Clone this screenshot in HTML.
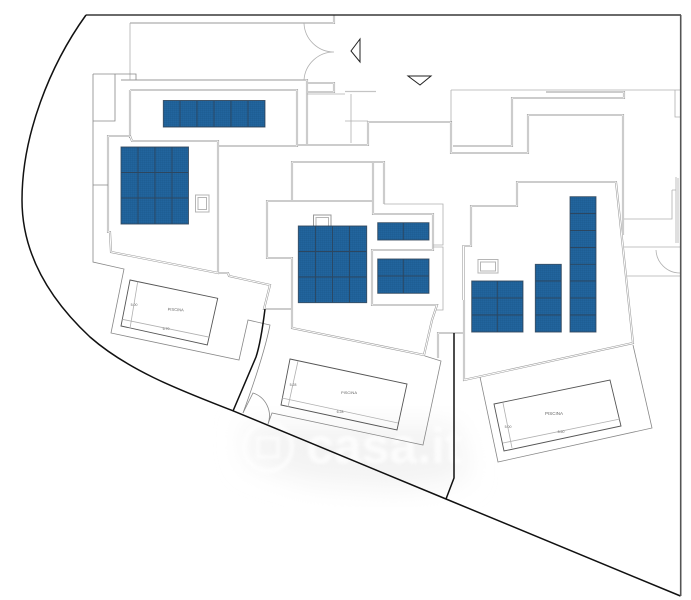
<!DOCTYPE html>
<html><head><meta charset="utf-8"><style>
html,body{margin:0;padding:0;background:#fff;width:691px;height:600px;overflow:hidden}
svg{display:block;filter:blur(.3px)}
.th{fill:none;stroke:#b0b0b0;stroke-width:.8}
.dk{fill:none;stroke:#666;stroke-width:.8}
.w{fill:none;stroke:#999;stroke-width:2.1;stroke-linejoin:miter}
.wi{fill:none;stroke:#fff;stroke-width:1}
.b{fill:none;stroke:#111;stroke-width:1.5}
.p{stroke:#2e4256;stroke-width:.9;fill:none;stroke-opacity:.85}
text{font-family:"Liberation Sans",sans-serif;fill:#666}
</style></head><body>
<svg width="691" height="600" viewBox="0 0 691 600" xmlns="http://www.w3.org/2000/svg">
<defs>
<pattern id="g" width="2" height="2" patternUnits="userSpaceOnUse"><rect width="2" height="2" fill="#22659e"/><path d="M0 0H2M0 0V2" stroke="#1a5488" stroke-width=".5"/></pattern>
<filter id="bl" x="-20%" y="-30%" width="140%" height="160%"><feGaussianBlur stdDeviation="14"/></filter>
<filter id="b2"><feGaussianBlur stdDeviation="1.6"/></filter>
</defs>

<!-- watermark -->
<path d="M245 425L455 425L468 478L400 488L310 482L248 462Z" fill="#f3f3f3" filter="url(#bl)"/>
<g filter="url(#b2)" opacity=".75">
<circle cx="268" cy="447" r="24" fill="none" stroke="#fff" stroke-width="4"/>
<rect x="258" y="438" width="20" height="19" fill="none" stroke="#fff" stroke-width="3"/>
<text x="306" y="463" font-size="50" font-weight="bold" style="fill:#fff">casa.it</text>
</g>

<!-- double walls -->
<path class="w" d="M121 80H307V145H298"/>
<path class="wi" d="M121 80H307V145H298"/>
<path class="w" d="M130 90H297V146H218M130 90V138"/>
<path class="wi" d="M130 90H297V146H218M130 90V138"/>
<path class="w" d="M108 136H130L132 141H218V273L111 252L110 232H108Z"/>
<path class="wi" d="M108 136H130L132 141H218V273L111 252L110 232H108Z"/>
<path class="w" d="M218 273H228L229 276L270 285L264 309H292"/>
<path class="wi" d="M218 273H228L229 276L270 285L264 309H292"/>
<path class="w" d="M307 92H334V83H307M298 145H368V122H451V153H528V115H623V235"/>
<path class="wi" d="M307 92H334V83H307M298 145H368V122H451V153H528V115H623V235"/>
<path class="w" d="M292 201V162H384V204"/>
<path class="wi" d="M292 201V162H384V204"/>
<path class="w" d="M373 162V214H433V250H372V305H437L432 320L424 355L292 328V258H267V201H372"/>
<path class="wi" d="M373 162V214H433V250H372V305H437L432 320L424 355L292 328V258H267V201H372"/>
<path class="w" d="M463.500 300V246H471V206H517V182H616L633 343L464 380V300"/>
<path class="wi" d="M463.500 300V246H471V206H517V182H616L633 343L464 380V300"/>
<path class="w" d="M464 333H438V358"/>
<path class="wi" d="M464 333H438V358"/>
<path class="w" d="M130 23H334V15"/>
<path class="wi" d="M130 23H334V15"/>
<path class="w" d="M546 92H624V98H512V146H453"/>
<path class="wi" d="M546 92H624V98H512V146H453"/>
<path d="M345 91.500H376" fill="none" stroke="#c4c4c4" stroke-width="1.300"/>

<!-- thin lines -->
<path class="th" d="M130 23V80M304 23A30 30 0 0 0 334 52A30 30 0 0 0 304 80M351 94V143M307 94H345M345 121H368"/>
<path class="dk" style="stroke:#888" d="M93 74H136V80M115 74V121H93M93 74V262L124 269L111 333L239 360L248 320L270 325C266 345 258 372 243 413M93 185H108"/>
<path class="th" d="M451 90H680M451 90V122M675 90V117H680M676 177V243M678 178V243M672 190H676M672 190V219H624M624 247H680M627 276H680M656 250A24 24 0 0 0 680 273"/>
<path class="th" d="M384 204H443V245H433M433 247H443V310H436"/>
<path class="dk" style="stroke:#888" d="M243 413L253 393A24 24 0 0 1 268 424L272 413L423 445L441 361L425 356"/>
<path class="dk" style="stroke:#888" d="M480 377L498 462L652 428L633 345"/>

<!-- small boxes -->
<rect x="195.500" y="195" width="13.500" height="17" fill="#fff" stroke="#b5b5b5"/>
<rect x="198" y="197.500" width="8.500" height="12" fill="#fff" stroke="#b5b5b5"/>
<rect x="313.500" y="215" width="17.500" height="12" fill="#fff" stroke="#999"/>
<rect x="316" y="217.500" width="12.500" height="9" fill="#fff" stroke="#b5b5b5"/>
<rect x="478" y="259.500" width="20" height="13.500" fill="#fff" stroke="#b5b5b5"/>
<rect x="480.500" y="262" width="15" height="9" fill="#fff" stroke="#b5b5b5"/>

<!-- triangles -->
<path d="M360 39L351 51L360 62Z" fill="#fff" stroke="#222" stroke-width="1"/>
<path d="M408 76H431L420 85Z" fill="#fff" stroke="#222" stroke-width="1"/>

<!-- pools -->
<path d="M130 280L217.700 298.300L207.300 345L121 326Z" fill="none" stroke="#555" stroke-width=".9"/>
<path class="th" d="M137.700 281.700L130 328.300M122.300 319.300L210 337.300"/>
<text x="175.700" y="311" font-size="4" text-anchor="middle" transform="rotate(3 175.700 310)">PISCINA</text>
<text x="134" y="306" font-size="3.500" text-anchor="middle">5.00</text>
<text x="166" y="330" font-size="3.500" text-anchor="middle">6.70</text>

<path d="M290 359L407 384L397 430L281 405Z" fill="none" stroke="#555" stroke-width=".9"/>
<path class="th" d="M298 361L288 407M282 398L398 423"/>
<text x="349" y="394" font-size="4" text-anchor="middle">PISCINA</text>
<text x="293" y="386" font-size="3.500" text-anchor="middle">5.28</text>
<text x="340" y="413" font-size="3.500" text-anchor="middle">6.28</text>

<path d="M494 404L610 380L621 426L504 451Z" fill="none" stroke="#555" stroke-width=".9"/>
<path class="th" d="M503 403L512 448M503 443L620 419"/>
<text x="554" y="415" font-size="4.500" text-anchor="middle">PISCINA</text>
<text x="508" y="428" font-size="3.500" text-anchor="middle">5.00</text>
<text x="561" y="433" font-size="3.500" text-anchor="middle">8.50</text>

<!-- solar panels -->
<rect x="163.300" y="100.500" width="101.700" height="26.500" fill="url(#g)"/>
<path class="p" d="M163.300 100.500H265V127H163.300ZM180 100.500V127M197 100.500V127M214 100.500V127M231 100.500V127M248 100.500V127"/>

<rect x="121" y="147" width="67.500" height="77" fill="url(#g)"/>
<path class="p" d="M121 147H188.500V224H121ZM138 147V224M155 147V224M172 147V224M121 172.500H188.500M121 198H188.500"/>

<rect x="298.300" y="226" width="68.400" height="76.700" fill="url(#g)"/>
<path class="p" d="M298.300 226H366.700V302.700H298.300ZM315.500 226V302.700M332.500 226V302.700M349.500 226V302.700M298.300 251.500H366.700M298.300 277H366.700"/>

<rect x="377.700" y="222.700" width="51.300" height="17.300" fill="url(#g)"/>
<path class="p" d="M377.700 222.700H429V240H377.700ZM403.300 222.700V240"/>

<rect x="377.700" y="259" width="51.300" height="34.300" fill="url(#g)"/>
<path class="p" d="M377.700 259H429V293.300H377.700ZM403.300 259V293.300M377.700 276H429"/>

<rect x="471.700" y="281" width="51.300" height="51" fill="url(#g)"/>
<path class="p" d="M471.700 281H523V332H471.700ZM497.300 281V332M471.700 298H523M471.700 315H523"/>

<rect x="535.300" y="264.300" width="26" height="67.700" fill="url(#g)"/>
<path class="p" d="M535.300 264.300H561.300V332H535.300ZM535.300 281H561.300M535.300 298H561.300M535.300 315H561.300"/>

<rect x="570" y="196.700" width="26" height="135.300" fill="url(#g)"/>
<path class="p" d="M570 196.700H596V332H570ZM570 213.500H596M570 230.500H596M570 247.500H596M570 264.300H596M570 281H596M570 298H596M570 315H596"/>

<!-- boundary -->
<path class="b" d="M86 15C50 65 22 135 22 200C22 250 45 295 90 337C130 372 185 392 232.700 410.700L446 499L680.500 596"/>
<path class="b" d="M86 15H681" style="stroke-width:1.300"/>
<path d="M680.700 15V596" fill="none" stroke="#555" stroke-width="1.600"/>
<path class="b" d="M265 309C263 325 260 345 256 357L233 411M454 333V478L446 499"/>
</svg>
</body></html>
